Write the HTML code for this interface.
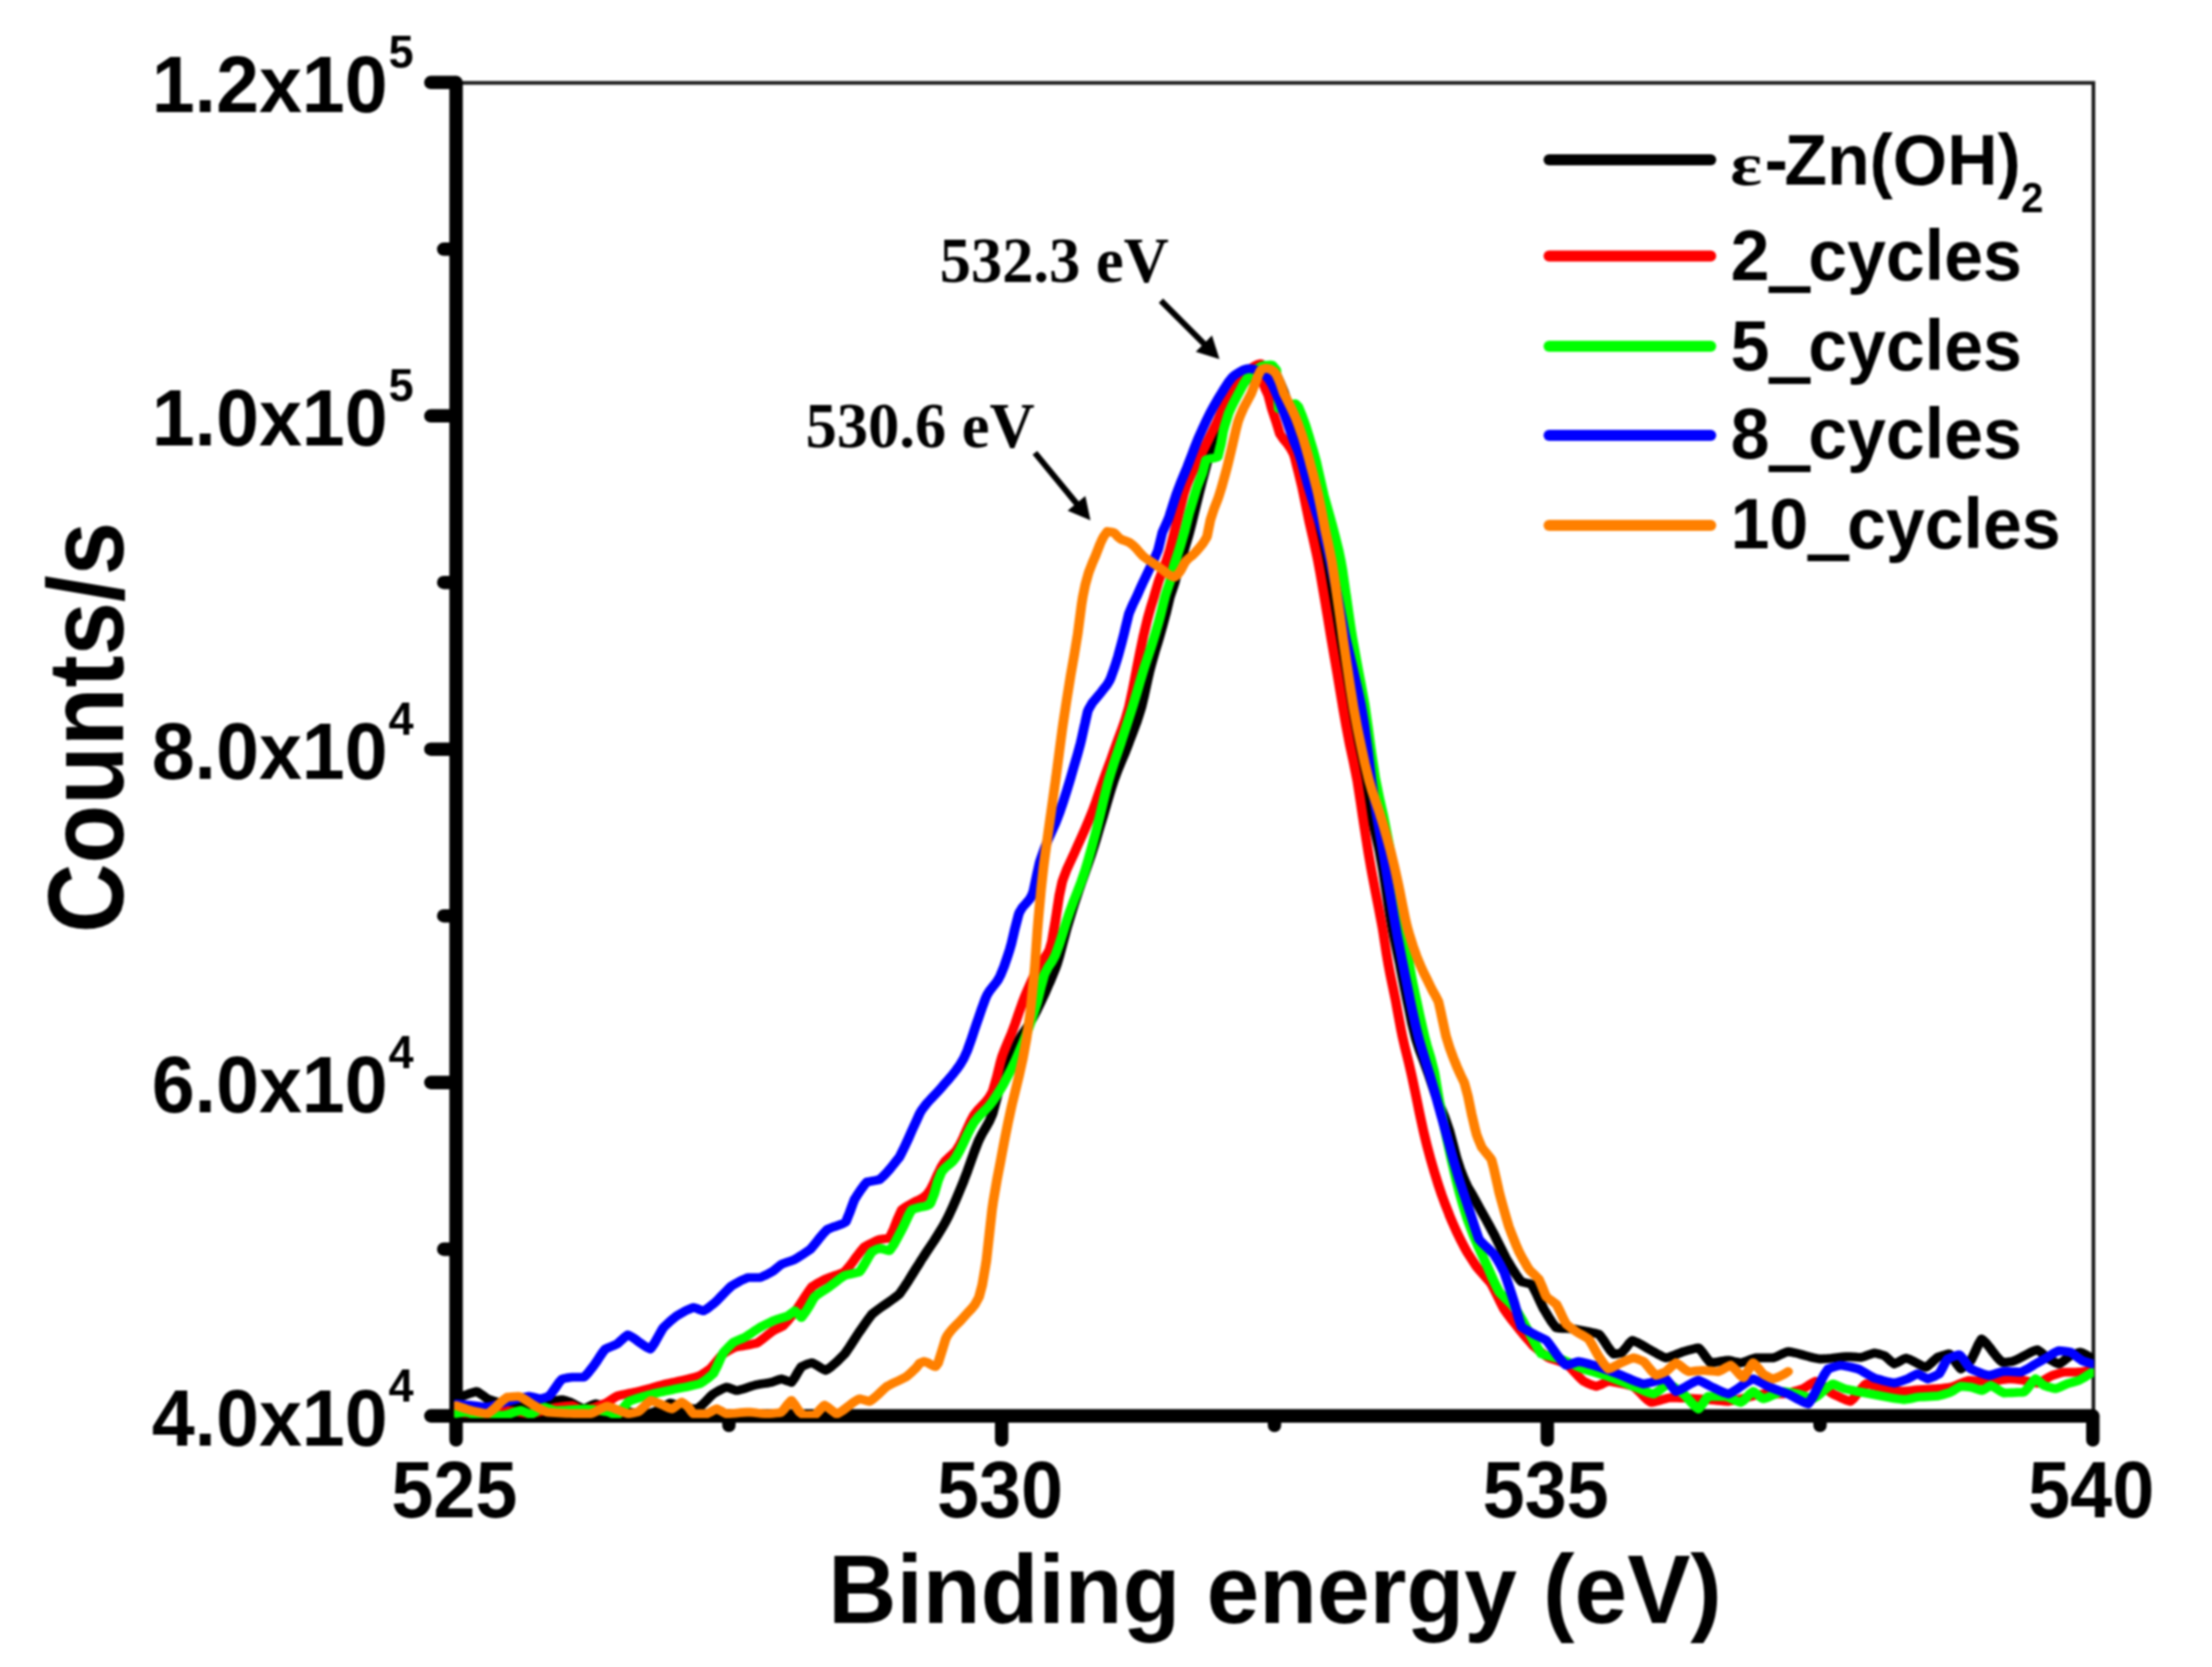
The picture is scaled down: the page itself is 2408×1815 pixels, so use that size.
<!DOCTYPE html>
<html lang="en"><head><meta charset="utf-8"><title>O 1s XPS spectra</title>
<style>
html,body{margin:0;padding:0;background:#fff;}
body{width:2408px;height:1815px;overflow:hidden;}
svg{display:block;filter:blur(1.3px);}
text{font-family:"Liberation Sans",Arial,Helvetica,sans-serif;font-weight:bold;fill:#000;}
.tk{font-size:84px;}
.sup{font-size:49px;}
.ttl{font-size:103px;}
.lg{font-size:76px;}
.an{font-family:"Liberation Serif","Times New Roman",serif;font-weight:bold;font-size:68px;}
.ax{stroke:#000;stroke-width:14.6;stroke-linecap:round;stroke-linejoin:round;fill:none;}
.thin{stroke:#1c1c1c;stroke-width:4;fill:none;stroke-linecap:square;}
.cv{fill:none;stroke-width:9.7;stroke-linejoin:round;stroke-linecap:round;}
.ll{fill:none;stroke-width:12;stroke-linecap:round;}
.us{font-family:"DejaVu Sans Mono","Liberation Mono",monospace;}
.eps{font-family:"Liberation Serif","DejaVu Serif",serif;font-size:70px;}
.sub{font-size:44px;}
</style></head><body>
<svg width="2408" height="1815" viewBox="0 0 2408 1815">
<defs><clipPath id="plot"><rect x="494.3" y="89.8" width="1785.2" height="1454.1"/></clipPath></defs>
<rect x="0" y="0" width="2408" height="1815" fill="#ffffff"/>
<path class="thin" d="M496.5,90.2 H2278.9 V1541.6"/>
<path class="ax" d="M496.5,89.8 V1541.6 H2278.3"/>
<path class="ax" d="M494.5,1541.6 H469 M494.5,1178.6 H469 M494.5,815.7 H469 M494.5,452.8 H469 M494.5,89.8 H469 M494.5,1360.1 H483 M494.5,997.2 H483 M494.5,634.2 H483 M494.5,271.3 H483 M496.5,1543.6 V1567.8 M1090.4,1543.6 V1567.8 M1684.4,1543.6 V1567.8 M2278.3,1543.6 V1567.8 M793.5,1543.6 V1552 M1387.4,1543.6 V1552 M1981.3,1543.6 V1552"/>
<g clip-path="url(#plot)"><g transform="scale(1.09,1)">
<polyline class="cv" stroke="#000000" points="455.5,1523.0 459.2,1521.3 462.9,1519.7 463.6,1519.4 466.5,1518.3 470.2,1516.8 473.9,1515.6 476.1,1515.0 477.5,1515.8 481.2,1518.6 484.9,1521.6 486.8,1523.0 488.6,1523.7 492.2,1525.1 495.9,1526.4 496.8,1526.7 499.6,1527.3 503.3,1528.1 506.9,1528.9 510.6,1529.6 513.8,1530.0 514.3,1530.0 517.9,1529.8 521.6,1529.6 525.3,1529.4 529.0,1529.2 532.1,1529.0 532.6,1528.9 536.3,1528.4 540.0,1527.8 543.7,1527.2 546.5,1526.7 547.3,1526.6 551.0,1525.8 554.7,1525.1 558.3,1524.4 561.5,1524.0 562.0,1524.1 565.7,1525.2 569.4,1526.6 569.7,1526.7 573.0,1528.5 576.7,1530.8 580.4,1532.8 583.0,1533.9 584.1,1533.6 587.7,1531.8 591.4,1529.8 594.7,1528.4 595.1,1528.5 598.7,1529.6 602.4,1531.1 606.1,1532.6 607.3,1533.0 609.8,1533.6 613.4,1534.6 617.1,1535.5 620.8,1536.4 623.9,1537.0 624.5,1537.1 628.1,1537.4 631.8,1537.8 635.5,1538.1 639.1,1538.4 642.8,1538.7 646.5,1538.9 647.7,1539.0 650.2,1538.3 653.8,1537.0 657.5,1535.4 660.6,1534.0 661.2,1533.6 664.9,1530.6 668.5,1528.0 669.3,1527.6 672.2,1528.5 675.9,1530.0 679.5,1531.6 683.2,1532.9 683.5,1533.0 686.9,1533.3 690.6,1533.7 694.2,1533.9 695.9,1534.0 697.9,1532.6 701.6,1529.2 705.3,1525.2 708.9,1521.1 712.5,1517.6 712.6,1517.5 716.3,1515.2 719.9,1513.0 723.6,1511.2 725.7,1510.4 727.3,1510.8 731.0,1512.3 734.6,1513.7 735.7,1514.0 738.3,1513.4 742.0,1512.3 745.7,1511.1 749.3,1509.7 753.0,1508.5 755.6,1507.7 756.7,1507.5 760.3,1506.8 764.0,1506.2 767.7,1505.6 770.6,1505.0 771.4,1504.7 775.0,1503.3 778.7,1501.9 780.5,1501.4 782.4,1502.0 786.1,1503.5 789.7,1504.8 790.4,1505.0 793.4,1500.6 797.1,1493.5 800.4,1488.0 800.7,1487.8 804.4,1486.1 808.1,1484.6 811.0,1483.8 811.8,1484.1 815.4,1486.2 819.1,1488.8 822.8,1491.1 824.8,1492.0 826.5,1490.9 830.1,1488.1 833.8,1484.6 837.5,1480.8 841.2,1476.8 843.5,1474.3 844.8,1472.3 848.5,1466.5 852.2,1460.3 855.8,1454.1 858.3,1450.0 859.5,1448.2 863.2,1442.4 866.9,1436.7 870.5,1431.4 870.8,1431.0 874.2,1428.0 877.9,1425.0 881.6,1422.2 885.2,1419.5 888.9,1416.7 892.6,1413.8 896.2,1410.7 898.2,1409.0 899.9,1406.4 903.6,1400.6 907.3,1394.4 910.9,1388.0 914.6,1381.5 918.3,1375.2 920.6,1371.0 922.0,1368.8 925.6,1362.7 929.3,1356.7 933.0,1350.7 936.6,1344.5 940.3,1337.9 944.0,1330.9 945.5,1327.8 947.7,1323.2 951.3,1314.6 955.0,1305.4 958.7,1295.8 962.4,1286.0 962.9,1284.4 966.0,1275.6 969.7,1264.3 973.4,1253.0 977.0,1242.9 977.8,1241.0 980.7,1234.7 984.4,1227.9 988.1,1220.8 990.8,1214.0 991.7,1211.2 995.4,1196.2 999.1,1179.4 1001.8,1169.0 1002.8,1166.3 1006.4,1156.8 1009.7,1149.2 1010.1,1148.3 1013.8,1140.3 1017.4,1132.8 1019.3,1129.3 1021.1,1126.0 1024.8,1119.9 1028.5,1113.9 1030.9,1109.5 1032.1,1107.1 1035.8,1099.3 1039.5,1091.0 1040.1,1089.6 1043.2,1082.4 1046.8,1073.3 1048.3,1069.7 1050.5,1064.0 1054.2,1054.1 1055.6,1049.8 1057.8,1041.8 1061.5,1026.6 1065.2,1011.5 1065.6,1010.0 1068.9,998.2 1072.5,985.5 1076.2,973.3 1077.4,969.3 1079.9,961.5 1083.6,950.3 1087.2,939.1 1090.2,929.6 1090.9,927.2 1094.6,914.4 1098.2,901.1 1101.4,889.8 1101.9,887.8 1105.6,874.1 1109.3,860.5 1112.4,850.0 1112.9,848.3 1116.6,837.7 1120.3,828.0 1124.0,818.4 1127.2,809.3 1127.6,808.2 1131.3,797.7 1135.0,786.8 1138.6,774.6 1140.0,769.6 1142.3,759.3 1146.0,740.5 1148.3,729.8 1149.7,724.0 1153.3,710.1 1157.0,696.9 1159.1,689.1 1160.7,682.9 1164.1,669.2 1164.4,668.2 1168.0,651.6 1168.6,649.3 1171.7,639.4 1173.2,634.4 1175.4,625.0 1177.8,614.5 1179.0,610.2 1182.4,599.6 1182.7,598.4 1186.4,585.2 1187.8,579.7 1190.1,570.1 1192.4,559.8 1193.7,553.9 1197.4,537.7 1201.1,521.9 1202.8,515.0 1204.8,506.7 1208.4,492.1 1210.8,484.4 1212.1,481.2 1215.8,473.6 1219.5,466.6 1220.2,465.0 1223.1,458.0 1226.8,448.7 1230.5,439.5 1233.9,432.0 1234.1,431.6 1237.8,424.7 1241.5,418.3 1245.2,412.9 1247.7,410.0 1248.8,408.9 1252.5,405.2 1256.2,402.0 1259.9,400.2 1261.5,400.0 1263.5,400.1 1267.2,400.8 1270.6,402.0 1270.9,402.1 1274.5,407.2 1278.2,416.0 1279.8,420.0 1281.9,425.6 1285.6,437.5 1289.0,450.0 1289.2,450.9 1292.9,465.8 1296.6,482.4 1298.2,490.0 1300.3,501.2 1303.7,520.0 1303.9,521.2 1307.6,537.0 1311.3,552.1 1311.9,555.0 1314.9,569.0 1318.6,586.8 1322.3,606.0 1322.9,609.6 1326.0,627.3 1329.4,649.0 1329.6,650.9 1333.3,678.1 1334.9,689.0 1337.0,702.0 1340.7,722.7 1341.7,729.0 1344.3,744.1 1348.0,765.9 1348.6,769.6 1351.7,788.0 1355.0,809.0 1355.3,810.9 1359.0,836.1 1361.2,849.5 1362.7,857.3 1366.4,874.1 1369.7,889.0 1370.0,890.4 1373.7,906.9 1377.4,924.4 1378.3,929.6 1381.1,946.3 1384.4,969.0 1384.7,971.2 1388.4,996.5 1390.4,1009.0 1392.1,1018.6 1395.7,1037.4 1398.2,1049.8 1399.4,1056.6 1403.1,1076.8 1405.5,1089.6 1406.8,1096.1 1410.4,1115.0 1413.7,1129.3 1414.1,1131.0 1417.8,1143.3 1421.5,1154.0 1425.1,1164.6 1426.6,1169.1 1428.8,1176.3 1432.5,1188.3 1433.0,1190.0 1436.1,1198.6 1439.8,1208.2 1442.7,1216.0 1443.5,1218.5 1447.2,1230.1 1447.7,1232.0 1450.8,1244.7 1454.5,1260.1 1455.0,1262.0 1458.2,1272.5 1461.9,1283.1 1462.4,1284.4 1465.5,1291.7 1469.2,1298.5 1472.9,1305.7 1476.5,1312.9 1477.2,1314.3 1480.2,1320.2 1483.9,1327.4 1487.6,1334.7 1491.2,1342.1 1492.2,1344.0 1494.9,1349.9 1498.6,1358.0 1502.3,1366.1 1504.6,1371.0 1505.9,1373.4 1509.6,1380.0 1513.3,1386.5 1516.9,1392.2 1519.5,1395.6 1520.6,1395.9 1524.3,1396.9 1528.0,1397.8 1529.4,1398.3 1531.6,1402.2 1535.3,1410.3 1539.0,1419.0 1541.9,1425.5 1542.7,1426.8 1546.3,1433.4 1550.0,1439.8 1553.7,1445.0 1554.4,1445.8 1557.3,1446.1 1561.0,1446.3 1564.7,1446.5 1568.4,1446.7 1571.8,1447.0 1572.0,1447.0 1575.7,1447.7 1579.4,1448.4 1583.1,1449.2 1586.7,1450.0 1590.4,1450.9 1594.1,1451.8 1596.7,1452.6 1597.8,1453.8 1601.4,1459.1 1605.1,1465.3 1608.8,1471.0 1611.7,1474.3 1612.4,1474.2 1616.1,1473.6 1619.3,1473.0 1619.8,1472.5 1623.5,1467.9 1627.1,1462.7 1630.3,1459.4 1630.8,1459.6 1634.5,1461.3 1638.2,1463.4 1641.8,1465.7 1645.5,1468.1 1648.9,1470.2 1649.2,1470.4 1652.8,1472.5 1656.5,1474.8 1660.2,1476.9 1663.9,1478.4 1663.9,1478.4 1667.5,1477.3 1671.2,1475.9 1674.9,1474.3 1678.6,1472.7 1681.3,1471.6 1682.2,1471.3 1685.9,1470.2 1689.6,1469.1 1693.2,1468.1 1696.2,1467.5 1696.9,1468.1 1700.6,1472.8 1704.3,1478.5 1707.9,1483.2 1708.6,1483.8 1711.6,1483.4 1715.3,1482.8 1719.0,1482.1 1722.6,1481.4 1726.1,1481.0 1726.3,1481.0 1730.0,1481.8 1733.6,1482.8 1737.3,1483.6 1738.5,1483.8 1741.0,1483.1 1744.7,1481.7 1748.3,1480.1 1752.0,1478.8 1753.4,1478.4 1755.7,1478.4 1759.4,1478.4 1763.0,1478.4 1766.7,1478.4 1770.4,1478.4 1770.8,1478.4 1774.0,1477.2 1777.7,1475.3 1781.4,1473.4 1785.1,1471.8 1785.8,1471.6 1788.7,1472.1 1792.4,1472.9 1796.1,1473.9 1799.8,1475.0 1803.4,1476.1 1807.1,1477.2 1810.8,1478.2 1814.4,1479.0 1818.1,1479.7 1818.2,1479.7 1821.8,1479.4 1825.5,1479.1 1829.1,1478.7 1832.8,1478.2 1836.5,1477.8 1840.2,1477.4 1843.8,1477.1 1845.5,1477.0 1847.5,1477.1 1851.2,1477.3 1854.8,1477.6 1858.5,1477.8 1858.7,1477.8 1862.2,1476.8 1865.9,1475.3 1869.5,1473.9 1872.0,1473.2 1873.2,1473.4 1876.9,1474.3 1880.6,1475.5 1882.0,1476.0 1884.2,1477.9 1887.9,1481.7 1891.6,1484.8 1891.9,1485.0 1895.2,1483.4 1898.9,1481.1 1902.6,1479.1 1903.7,1478.7 1906.3,1479.7 1909.9,1481.5 1913.6,1483.7 1917.3,1485.8 1921.0,1487.7 1923.5,1488.6 1924.6,1487.9 1928.3,1484.5 1932.0,1480.7 1935.1,1477.8 1935.6,1477.6 1939.3,1476.2 1943.0,1475.0 1946.7,1474.0 1946.8,1474.0 1950.3,1478.5 1954.0,1484.6 1957.7,1489.8 1958.3,1490.4 1961.4,1488.3 1965.0,1484.8 1968.3,1481.4 1968.7,1480.6 1972.4,1472.2 1976.1,1463.3 1979.1,1457.9 1979.7,1458.4 1983.4,1462.2 1987.1,1467.1 1990.7,1472.4 1994.4,1477.5 1998.1,1481.7 1999.8,1483.2 2001.8,1483.1 2005.4,1482.8 2009.1,1482.4 2009.7,1482.3 2012.8,1481.0 2016.5,1479.1 2020.1,1477.0 2023.8,1474.8 2027.5,1472.7 2031.1,1470.9 2034.7,1469.6 2034.8,1469.7 2038.5,1472.4 2042.2,1475.9 2045.8,1479.3 2046.2,1479.6 2049.5,1481.6 2053.2,1483.7 2056.2,1485.0 2056.9,1484.7 2060.5,1482.1 2064.2,1478.9 2067.9,1476.0 2067.9,1476.0 2071.5,1474.4 2075.2,1473.0 2077.8,1472.3 2078.9,1472.7 2082.6,1474.5 2086.2,1476.8 2089.9,1479.6"/>
<polyline class="cv" stroke="#ff0000" points="455.5,1538.0 459.2,1538.2 462.9,1538.5 466.5,1538.6 470.2,1538.8 473.9,1538.9 477.1,1539.0 477.5,1539.0 481.2,1538.6 484.9,1538.2 488.6,1537.8 492.2,1537.3 495.9,1536.8 499.6,1536.3 503.3,1536.0 506.4,1535.7 506.9,1535.7 510.6,1536.2 514.3,1536.8 517.9,1537.5 521.6,1538.1 525.3,1538.7 529.0,1539.2 529.9,1539.3 532.6,1538.8 536.3,1537.9 540.0,1536.8 543.7,1535.7 547.3,1534.6 551.0,1533.4 554.7,1532.4 556.5,1532.0 558.3,1531.8 562.0,1531.3 565.7,1530.8 569.4,1530.5 571.6,1530.3 573.0,1530.9 576.7,1533.2 580.4,1535.3 581.4,1535.7 584.1,1535.1 587.7,1534.1 591.4,1533.0 594.5,1532.0 595.1,1531.8 598.7,1530.3 602.4,1528.7 606.1,1527.1 606.2,1527.0 609.8,1524.5 613.4,1521.8 616.2,1520.0 617.1,1519.7 620.8,1518.8 624.5,1517.9 628.1,1517.1 631.8,1516.3 635.5,1515.4 639.1,1514.6 639.4,1514.5 642.8,1513.5 646.5,1512.4 650.2,1511.3 653.8,1510.1 657.5,1509.0 661.2,1507.9 664.2,1507.0 664.9,1506.8 668.5,1505.9 672.2,1505.1 675.9,1504.2 679.5,1503.3 680.9,1503.0 683.2,1502.4 686.9,1501.5 690.6,1500.5 694.2,1499.5 697.5,1498.5 697.9,1498.3 701.6,1496.0 705.3,1493.4 708.9,1490.7 709.2,1490.5 712.6,1486.4 716.3,1481.5 719.9,1476.8 722.4,1474.0 723.6,1473.2 727.3,1470.7 731.0,1468.6 733.9,1467.0 734.6,1466.8 738.3,1466.1 742.0,1465.4 744.0,1465.0 745.7,1464.7 749.3,1463.9 753.0,1463.1 755.6,1462.5 756.7,1461.8 760.3,1459.0 764.0,1455.9 767.7,1452.7 771.4,1449.6 772.2,1449.0 775.0,1447.4 778.7,1445.5 782.1,1443.5 782.4,1443.2 786.1,1438.8 789.7,1433.9 793.4,1428.8 796.1,1425.0 797.1,1423.5 800.7,1417.4 804.4,1411.2 808.1,1405.2 811.0,1401.0 811.8,1400.4 815.4,1397.9 819.1,1395.6 822.8,1393.5 823.6,1393.0 826.5,1391.8 830.1,1390.3 833.8,1388.9 837.5,1387.5 841.2,1385.9 843.5,1384.8 844.8,1383.3 848.5,1378.5 852.2,1373.2 855.8,1367.7 859.5,1362.5 863.2,1357.8 863.3,1357.7 866.9,1355.5 870.5,1353.4 874.2,1351.4 877.9,1349.7 878.3,1349.5 881.6,1349.0 885.2,1348.5 888.1,1348.0 888.9,1346.6 892.6,1338.1 896.2,1327.9 899.9,1318.7 900.7,1317.0 903.6,1314.8 907.3,1312.3 910.9,1310.1 914.6,1307.9 918.3,1306.2 922.0,1303.9 925.6,1300.8 925.7,1300.7 929.3,1295.3 933.0,1287.3 936.6,1278.4 940.3,1270.2 943.1,1265.4 944.0,1264.2 947.7,1260.3 951.3,1256.8 955.0,1252.6 955.4,1252.0 958.7,1246.3 962.4,1237.9 966.0,1228.8 969.7,1220.1 972.8,1214.0 973.4,1213.1 977.0,1208.1 980.7,1203.9 984.4,1199.8 988.1,1194.6 990.8,1189.5 991.7,1187.2 995.4,1173.2 999.1,1156.8 1000.9,1150.0 1002.8,1144.5 1006.4,1134.9 1010.1,1125.5 1011.0,1123.0 1013.8,1114.7 1017.4,1103.1 1021.1,1091.7 1023.5,1085.0 1024.8,1081.6 1028.5,1072.3 1032.1,1063.5 1035.8,1055.5 1038.5,1050.0 1039.5,1048.3 1043.2,1043.0 1046.8,1037.0 1048.3,1033.6 1050.5,1025.2 1054.2,1001.6 1057.8,975.8 1060.8,960.4 1061.5,958.0 1065.2,947.2 1068.9,938.4 1072.5,929.9 1073.4,927.8 1076.2,920.7 1079.9,911.8 1083.6,902.8 1087.2,893.6 1090.6,884.4 1090.9,883.7 1094.6,872.8 1098.2,861.2 1101.9,849.7 1102.1,849.1 1105.6,838.6 1109.3,827.7 1112.9,816.6 1115.3,809.3 1116.6,805.4 1120.3,794.6 1124.0,783.1 1127.6,769.6 1127.6,769.5 1131.3,750.7 1135.0,729.8 1135.0,729.7 1138.6,709.8 1142.3,690.7 1142.7,689.1 1146.0,674.0 1147.2,669.2 1149.7,659.8 1152.7,649.3 1153.3,646.8 1157.0,633.3 1158.2,629.5 1160.7,622.4 1163.6,614.5 1164.4,612.2 1168.0,600.1 1168.2,599.6 1171.7,584.4 1172.8,579.7 1175.4,568.3 1177.3,559.8 1179.0,552.1 1181.8,539.9 1182.7,536.4 1184.6,530.0 1186.4,524.9 1190.1,515.7 1193.7,507.5 1197.4,499.7 1199.8,494.4 1201.1,491.5 1204.8,483.3 1208.4,475.3 1212.1,467.1 1215.4,459.6 1215.8,458.7 1219.5,449.5 1223.1,440.4 1225.4,435.7 1226.8,433.4 1230.0,428.7 1230.5,428.0 1234.1,421.9 1237.8,415.8 1240.4,412.0 1241.5,410.5 1245.2,405.5 1248.8,401.6 1249.5,401.0 1252.5,398.8 1256.2,396.7 1259.2,396.0 1259.9,398.8 1261.9,417.8 1263.5,422.8 1266.4,429.7 1267.2,432.5 1270.1,444.6 1270.9,447.3 1274.5,459.1 1274.7,459.6 1278.2,472.2 1278.3,472.5 1281.9,478.3 1285.6,483.0 1286.5,484.4 1289.2,488.7 1292.0,494.4 1292.9,497.2 1295.7,509.3 1296.6,513.1 1300.2,529.2 1300.3,529.5 1303.9,548.5 1307.6,568.0 1307.8,569.0 1311.3,585.6 1314.9,603.2 1316.1,609.6 1318.6,624.2 1322.3,647.8 1322.5,649.0 1326.0,671.7 1328.6,689.1 1329.6,695.6 1333.3,719.0 1334.9,729.0 1337.0,742.9 1340.7,766.8 1341.1,769.6 1344.3,789.4 1347.7,809.0 1348.0,810.6 1351.7,829.1 1355.3,848.5 1355.5,849.5 1359.0,874.3 1361.0,889.0 1362.7,901.1 1366.4,926.8 1366.8,929.6 1370.0,949.5 1373.4,969.0 1373.7,970.8 1377.4,991.2 1380.5,1009.0 1381.1,1012.8 1384.7,1038.2 1386.5,1049.8 1388.4,1060.6 1392.1,1080.0 1393.9,1089.6 1395.7,1100.5 1399.4,1121.8 1400.8,1129.3 1403.1,1140.2 1406.8,1156.4 1409.5,1169.1 1410.4,1173.5 1414.1,1192.7 1417.8,1212.4 1421.5,1230.9 1422.5,1235.6 1425.1,1247.1 1428.8,1262.1 1432.5,1276.0 1434.9,1284.4 1436.1,1288.8 1439.8,1300.7 1443.5,1311.7 1447.2,1321.9 1447.3,1322.4 1450.8,1331.5 1454.5,1340.5 1458.2,1348.9 1461.9,1356.6 1462.4,1357.7 1465.5,1363.8 1469.2,1370.0 1472.9,1376.3 1474.8,1379.4 1476.5,1381.7 1480.2,1386.3 1483.9,1390.8 1487.6,1395.5 1489.6,1398.3 1491.2,1401.6 1494.9,1409.6 1498.6,1418.0 1502.1,1425.5 1502.3,1425.7 1505.9,1431.3 1509.6,1436.6 1513.3,1441.7 1516.9,1446.8 1517.1,1447.0 1520.6,1451.7 1524.3,1456.4 1528.0,1461.1 1531.6,1465.6 1532.0,1466.0 1535.3,1469.0 1539.0,1472.2 1542.7,1475.3 1546.3,1478.1 1546.8,1478.4 1550.0,1479.7 1553.7,1481.0 1557.3,1482.3 1561.0,1483.7 1564.2,1485.0 1564.7,1485.4 1568.4,1489.2 1572.0,1493.4 1575.7,1497.7 1579.4,1501.8 1581.7,1504.0 1583.1,1504.7 1586.7,1506.6 1590.4,1508.2 1594.1,1509.5 1594.2,1509.5 1597.8,1508.1 1601.4,1506.2 1605.1,1504.4 1606.4,1504.0 1608.8,1504.3 1612.4,1505.0 1616.1,1505.7 1619.8,1506.5 1623.5,1507.4 1627.1,1508.4 1630.8,1509.4 1631.2,1509.5 1634.5,1512.4 1638.2,1516.4 1641.8,1520.6 1645.5,1524.4 1648.9,1527.0 1649.2,1527.0 1652.8,1526.2 1656.5,1525.1 1660.2,1523.9 1663.9,1522.8 1667.5,1521.9 1668.8,1521.7 1671.2,1521.8 1674.9,1521.9 1678.6,1522.1 1682.2,1522.2 1685.9,1522.4 1689.6,1522.6 1693.2,1522.8 1696.9,1523.0 1697.2,1523.0 1700.6,1523.3 1704.3,1523.7 1707.9,1524.1 1711.6,1524.5 1715.3,1524.9 1719.0,1525.2 1722.6,1525.6 1726.1,1525.8 1726.3,1525.8 1730.0,1525.1 1733.6,1524.3 1737.3,1523.4 1741.0,1522.5 1743.1,1522.0 1744.7,1521.6 1748.3,1520.6 1752.0,1519.6 1755.7,1518.7 1759.4,1518.0 1760.9,1517.7 1763.0,1517.7 1766.7,1517.7 1770.4,1517.7 1774.0,1517.7 1777.7,1517.7 1780.7,1517.7 1781.4,1517.6 1785.1,1516.8 1788.7,1515.8 1792.4,1514.7 1796.1,1513.6 1799.8,1512.3 1800.7,1512.0 1803.4,1510.3 1807.1,1507.6 1810.8,1505.2 1813.1,1504.0 1814.4,1504.7 1818.1,1507.2 1821.8,1510.3 1825.5,1513.6 1829.1,1516.7 1830.6,1517.7 1832.8,1518.9 1836.5,1520.8 1840.2,1522.7 1843.8,1524.4 1847.5,1525.7 1848.0,1525.8 1851.2,1522.7 1854.8,1517.7 1858.5,1512.5 1862.2,1508.0 1863.8,1506.7 1865.9,1507.1 1869.5,1508.0 1873.2,1509.0 1876.9,1510.1 1880.6,1511.2 1883.7,1512.0 1884.2,1512.1 1887.9,1512.8 1891.6,1513.5 1895.2,1514.1 1898.9,1514.7 1900.3,1514.8 1902.6,1514.6 1906.3,1514.2 1909.9,1513.8 1913.6,1513.3 1916.9,1513.0 1917.3,1513.0 1921.0,1512.8 1924.6,1512.6 1928.3,1512.4 1932.0,1512.2 1935.1,1512.0 1935.6,1511.9 1939.3,1511.5 1943.0,1511.0 1946.7,1510.5 1949.5,1510.0 1950.3,1509.7 1954.0,1508.2 1957.7,1506.5 1961.4,1504.8 1965.0,1503.4 1966.6,1503.0 1968.7,1503.1 1972.4,1503.3 1976.1,1503.5 1979.7,1503.7 1983.4,1503.9 1986.2,1504.0 1987.1,1503.9 1990.7,1503.5 1994.4,1503.1 1998.1,1502.5 2001.8,1502.0 2005.4,1501.5 2008.1,1501.3 2009.1,1501.4 2012.8,1501.8 2016.5,1502.3 2020.1,1502.8 2021.4,1503.0 2023.8,1503.5 2027.5,1504.4 2031.1,1505.3 2034.8,1506.0 2034.9,1506.0 2038.5,1504.3 2042.2,1502.1 2045.8,1499.7 2049.5,1497.6 2049.5,1497.6 2053.2,1496.3 2056.9,1495.1 2060.5,1494.1 2061.2,1494.0 2064.2,1494.0 2067.9,1494.0 2071.5,1494.0 2074.5,1494.0 2075.2,1493.9 2078.9,1493.6 2082.6,1493.1 2086.2,1492.6 2089.9,1492.0"/>
<polyline class="cv" stroke="#00ff00" points="455.5,1539.0 459.2,1538.3 462.9,1537.7 465.1,1537.5 466.5,1537.8 470.2,1538.9 473.9,1540.2 477.1,1541.0 477.5,1541.0 481.2,1541.0 484.9,1541.0 488.6,1541.0 492.2,1541.0 495.9,1541.0 499.6,1541.0 503.3,1541.0 503.4,1541.0 506.9,1540.1 510.6,1538.8 514.3,1537.4 517.9,1536.2 520.0,1535.7 521.6,1536.2 525.3,1537.9 529.0,1539.6 530.3,1540.0 532.6,1538.8 536.3,1536.3 540.0,1533.7 543.1,1532.0 543.7,1532.1 547.3,1533.3 551.0,1534.8 554.7,1535.9 555.0,1536.0 558.3,1535.8 562.0,1535.6 565.7,1535.4 569.4,1535.1 573.0,1534.8 576.7,1534.5 580.4,1534.3 584.1,1534.1 586.2,1534.0 587.7,1534.2 591.4,1534.6 595.1,1535.2 598.7,1535.8 602.4,1536.4 606.1,1537.1 607.9,1537.5 609.8,1538.3 613.4,1540.0 616.2,1541.0 617.1,1540.2 620.8,1535.7 624.5,1530.2 627.8,1526.0 628.1,1525.8 631.8,1524.3 635.5,1522.9 639.1,1521.6 639.4,1521.5 642.8,1520.4 646.5,1519.3 650.2,1518.3 652.8,1517.5 653.8,1517.2 657.5,1516.3 661.2,1515.4 664.9,1514.6 668.5,1513.7 672.2,1512.9 672.5,1512.8 675.9,1512.1 679.5,1511.3 683.2,1510.6 685.9,1510.0 686.9,1509.7 690.6,1508.8 694.2,1507.9 697.9,1506.9 699.1,1506.5 701.6,1504.8 705.3,1502.0 708.9,1498.8 712.5,1495.5 712.6,1495.3 716.3,1487.2 719.9,1478.3 722.4,1473.0 723.6,1471.4 727.3,1467.0 731.0,1463.0 732.4,1461.6 734.6,1460.4 738.3,1458.7 742.0,1457.0 744.0,1456.0 745.7,1454.9 749.3,1452.3 753.0,1449.5 756.7,1446.9 758.9,1445.3 760.3,1444.5 764.0,1442.4 767.7,1440.4 771.4,1438.4 772.2,1438.0 775.0,1436.9 778.7,1435.7 782.4,1434.4 786.1,1433.1 787.2,1432.6 789.7,1430.4 793.4,1427.4 793.8,1427.2 797.1,1430.8 800.4,1434.4 800.7,1434.0 804.4,1428.6 807.3,1423.6 808.1,1422.2 811.8,1415.1 813.6,1412.0 815.4,1410.4 819.1,1407.6 822.8,1405.0 826.5,1402.5 828.4,1401.0 830.1,1399.6 833.8,1396.5 837.5,1393.3 841.2,1390.4 843.5,1388.8 844.8,1388.4 848.5,1387.4 852.2,1386.6 855.8,1385.6 858.3,1384.8 859.5,1383.2 863.2,1376.8 866.9,1369.7 870.5,1363.4 870.8,1363.0 874.2,1360.9 877.9,1359.2 878.3,1359.0 881.6,1359.8 885.2,1361.0 888.3,1361.7 888.9,1360.9 892.6,1355.2 896.2,1347.9 899.9,1340.3 900.7,1338.7 903.6,1332.2 907.3,1323.5 910.6,1317.0 910.9,1316.9 914.6,1315.6 918.3,1314.5 922.0,1313.8 925.6,1312.8 928.1,1311.6 929.3,1310.2 933.0,1299.9 936.6,1286.2 940.3,1276.1 940.4,1276.0 944.0,1271.5 947.7,1268.2 951.3,1264.7 952.9,1262.7 955.0,1259.5 958.7,1252.3 962.4,1244.0 966.0,1235.5 969.7,1227.6 972.8,1222.0 973.4,1221.2 977.0,1216.3 980.7,1212.1 984.4,1208.1 988.1,1203.8 990.8,1200.0 991.7,1198.6 995.4,1192.7 999.1,1186.2 1002.8,1179.2 1006.4,1171.7 1010.1,1163.8 1013.8,1155.4 1016.1,1150.0 1017.4,1146.6 1021.1,1137.1 1024.8,1126.9 1028.5,1115.8 1032.1,1103.9 1035.3,1093.0 1035.8,1091.2 1039.5,1074.7 1043.1,1060.7 1043.2,1060.6 1046.8,1053.0 1050.5,1047.1 1053.2,1041.7 1054.2,1039.3 1057.8,1028.5 1061.5,1015.9 1065.2,1003.0 1068.3,993.0 1068.9,991.2 1072.5,980.6 1076.2,970.5 1079.9,960.0 1083.2,949.5 1083.6,948.3 1087.2,935.0 1090.9,920.5 1094.6,905.3 1095.7,900.7 1098.2,889.5 1101.9,872.5 1105.6,856.1 1107.3,849.1 1109.3,842.0 1112.9,829.7 1116.6,818.0 1119.3,809.3 1120.3,805.9 1124.0,793.7 1127.6,781.5 1131.1,769.6 1131.3,768.9 1135.0,755.6 1138.6,742.0 1142.0,729.8 1142.3,728.7 1146.0,716.4 1149.7,704.3 1153.3,691.6 1154.0,689.1 1157.0,677.7 1159.1,669.2 1160.7,662.0 1163.6,649.3 1164.4,646.5 1168.0,634.9 1168.2,634.4 1171.7,618.8 1172.8,614.5 1175.4,605.9 1177.3,599.6 1179.0,593.6 1182.7,579.8 1182.8,579.7 1186.4,563.7 1187.3,559.8 1190.1,549.7 1192.8,539.9 1193.7,536.6 1195.6,530.0 1197.4,524.8 1200.9,515.0 1201.1,514.4 1204.4,500.8 1204.8,500.6 1208.4,499.3 1212.1,498.8 1215.8,497.7 1216.2,497.4 1219.5,482.9 1221.7,469.5 1223.1,463.8 1226.8,450.9 1227.2,449.6 1230.5,441.7 1234.1,434.1 1236.3,429.7 1237.8,426.6 1241.5,418.8 1245.2,412.3 1245.5,411.8 1248.8,407.7 1252.5,404.0 1255.0,402.0 1256.2,401.2 1259.9,398.9 1262.4,398.0 1263.5,397.8 1267.2,397.5 1269.2,397.4 1270.9,397.8 1274.5,402.6 1274.7,402.9 1276.1,425.0 1277.1,445.0 1278.2,444.8 1281.9,443.2 1284.4,442.0 1285.6,441.6 1289.2,440.5 1292.9,439.7 1293.9,439.7 1296.6,442.7 1300.3,452.5 1302.0,457.6 1303.9,463.3 1307.6,476.4 1308.4,479.5 1311.3,489.9 1314.9,504.3 1314.9,504.6 1318.6,522.3 1322.1,539.1 1322.3,539.9 1326.0,554.2 1329.6,568.3 1329.8,569.0 1333.3,583.3 1337.0,599.6 1338.9,609.6 1340.7,620.6 1344.3,647.8 1344.5,649.0 1348.0,675.9 1349.8,689.1 1351.7,701.0 1355.3,722.6 1356.4,729.0 1359.0,743.9 1362.7,765.5 1363.3,769.6 1366.4,793.2 1368.3,809.0 1370.0,822.1 1373.7,848.6 1373.9,849.5 1377.4,868.2 1381.1,885.9 1381.7,889.0 1384.7,905.5 1388.4,926.2 1389.0,929.6 1392.1,948.4 1395.4,969.0 1395.7,971.0 1399.4,991.4 1402.3,1009.0 1403.1,1014.9 1406.8,1045.8 1407.3,1049.8 1410.4,1068.0 1414.1,1086.7 1414.7,1089.6 1417.8,1105.4 1421.5,1123.1 1422.8,1129.3 1425.1,1138.5 1428.8,1151.8 1432.5,1167.3 1432.8,1169.1 1436.1,1190.5 1437.6,1200.0 1439.8,1212.6 1443.5,1232.2 1447.2,1250.6 1449.5,1262.0 1450.8,1268.1 1454.5,1285.1 1458.2,1300.8 1460.6,1310.0 1461.9,1314.7 1465.5,1327.1 1469.2,1337.8 1471.6,1345.0 1472.9,1348.3 1476.5,1357.4 1480.2,1366.2 1482.2,1371.0 1483.9,1375.1 1487.6,1384.1 1491.2,1393.1 1494.9,1401.5 1497.2,1406.5 1498.6,1408.2 1502.3,1412.4 1505.9,1416.3 1509.6,1420.2 1513.3,1424.4 1513.8,1425.0 1516.9,1430.7 1520.6,1437.8 1524.3,1445.1 1528.0,1452.3 1529.4,1455.0 1531.6,1459.5 1535.3,1467.0 1539.0,1473.4 1539.4,1474.0 1542.7,1475.2 1546.3,1476.3 1550.0,1477.3 1553.7,1478.3 1557.3,1479.3 1559.6,1480.0 1561.0,1480.6 1564.7,1482.3 1568.4,1484.1 1572.0,1486.0 1575.7,1487.8 1579.4,1489.6 1581.7,1490.6 1583.1,1491.1 1586.7,1492.3 1590.4,1493.5 1594.1,1494.7 1597.8,1495.9 1601.4,1497.0 1605.1,1498.2 1606.4,1498.7 1608.8,1499.7 1612.4,1501.2 1616.1,1502.8 1619.8,1504.4 1623.5,1506.0 1627.1,1507.6 1630.8,1509.2 1631.6,1509.5 1634.5,1510.8 1638.2,1512.5 1641.8,1514.2 1645.5,1515.8 1649.2,1517.1 1651.4,1517.7 1652.8,1516.9 1656.5,1514.3 1660.2,1511.1 1663.9,1508.2 1666.3,1506.8 1667.5,1507.4 1671.2,1509.6 1674.9,1512.5 1678.6,1515.5 1681.3,1517.7 1682.2,1518.7 1685.9,1523.0 1689.6,1527.5 1693.2,1531.5 1696.2,1534.0 1696.9,1533.4 1700.6,1528.2 1704.3,1522.5 1706.1,1520.4 1707.9,1520.4 1711.6,1520.4 1715.3,1520.4 1719.0,1520.4 1722.6,1520.4 1723.6,1520.4 1726.3,1521.4 1730.0,1523.1 1733.6,1525.0 1737.3,1526.6 1738.5,1527.0 1741.0,1525.1 1744.7,1521.1 1748.3,1517.0 1750.9,1515.0 1752.0,1515.6 1755.7,1518.8 1759.4,1522.0 1760.9,1523.0 1763.0,1522.4 1766.7,1520.9 1770.4,1519.2 1774.0,1517.5 1777.7,1515.9 1780.7,1515.0 1781.4,1515.1 1785.1,1515.6 1788.7,1516.3 1792.4,1517.0 1795.8,1517.7 1796.1,1517.8 1799.8,1519.1 1803.4,1520.6 1807.1,1522.0 1810.6,1523.0 1810.8,1522.9 1814.4,1520.5 1818.1,1517.3 1821.8,1513.7 1825.5,1510.3 1829.1,1507.6 1830.6,1506.8 1832.8,1507.6 1836.5,1509.3 1840.2,1511.1 1842.2,1512.0 1843.8,1512.4 1847.5,1513.3 1851.2,1514.1 1854.8,1514.9 1858.5,1515.7 1862.2,1516.5 1865.9,1517.3 1867.0,1517.5 1869.5,1518.0 1873.2,1518.7 1876.9,1519.5 1880.6,1520.3 1884.2,1521.0 1887.9,1521.7 1891.6,1522.4 1895.2,1523.0 1898.9,1523.5 1901.8,1523.9 1902.6,1523.8 1906.3,1523.2 1909.9,1522.4 1913.6,1521.6 1916.9,1521.0 1917.3,1521.0 1921.0,1520.8 1924.6,1520.6 1928.3,1520.4 1932.0,1520.2 1935.1,1520.0 1935.6,1519.9 1939.3,1518.9 1943.0,1517.6 1946.7,1516.3 1948.3,1515.7 1950.3,1514.5 1954.0,1511.9 1957.7,1509.7 1958.3,1509.4 1961.4,1509.6 1965.0,1510.0 1968.3,1510.3 1968.7,1510.4 1972.4,1511.6 1976.1,1513.0 1979.7,1514.0 1979.8,1514.0 1983.4,1511.7 1987.1,1509.0 1988.1,1508.5 1990.7,1509.8 1994.4,1512.3 1998.1,1514.9 2001.5,1516.6 2001.8,1516.6 2005.4,1516.5 2009.1,1516.3 2012.8,1516.2 2016.5,1516.0 2020.1,1515.8 2021.4,1515.7 2023.8,1513.2 2027.5,1508.0 2031.1,1503.1 2033.0,1501.3 2034.8,1502.5 2038.5,1506.0 2041.3,1508.5 2042.2,1508.8 2045.8,1510.1 2049.5,1511.2 2052.9,1512.0 2053.2,1511.9 2056.9,1510.5 2060.5,1508.6 2064.2,1506.8 2064.5,1506.7 2067.9,1505.6 2071.5,1504.5 2075.2,1503.3 2076.1,1503.0 2078.9,1501.4 2082.6,1499.1 2086.2,1496.6 2089.9,1494.0"/>
<polyline class="cv" stroke="#0000ff" points="455.5,1528.5 459.2,1528.9 462.9,1529.3 466.5,1529.7 470.2,1530.1 471.9,1530.3 473.9,1530.5 477.5,1531.0 481.2,1531.5 484.9,1531.8 486.8,1532.0 488.6,1531.6 492.2,1530.6 495.9,1529.3 499.6,1528.1 500.0,1528.0 503.3,1527.0 506.9,1526.0 510.6,1524.9 513.8,1524.0 514.3,1523.9 517.9,1522.8 521.6,1521.8 525.3,1520.9 528.3,1520.3 529.0,1520.4 532.6,1521.3 536.3,1522.3 539.9,1523.0 540.0,1523.0 543.7,1522.0 547.3,1520.6 548.2,1520.3 551.0,1516.7 554.7,1511.0 558.3,1505.2 561.5,1501.4 562.0,1501.3 565.7,1500.4 569.4,1499.8 571.5,1499.5 573.0,1499.5 576.7,1499.5 580.4,1499.5 583.0,1499.5 584.1,1498.6 587.7,1494.3 591.4,1489.1 593.0,1486.9 595.1,1483.7 598.7,1477.6 602.4,1471.7 604.6,1468.8 606.1,1468.0 609.8,1466.3 613.4,1464.7 616.2,1463.4 617.1,1462.7 620.8,1458.9 624.5,1455.3 627.0,1453.4 628.1,1453.9 631.8,1456.1 635.5,1458.9 639.1,1461.9 642.8,1464.8 646.5,1467.3 649.4,1468.8 650.2,1467.9 653.8,1462.1 657.5,1454.9 661.2,1447.8 662.7,1445.3 664.9,1443.0 668.5,1439.3 672.2,1435.9 675.9,1432.7 676.0,1432.6 679.5,1430.4 683.2,1428.1 686.9,1426.1 690.6,1424.3 692.6,1423.6 694.2,1424.1 697.9,1425.6 701.6,1427.0 702.5,1427.2 705.3,1425.6 708.9,1422.7 712.6,1419.5 714.1,1418.2 716.3,1415.9 719.9,1411.8 723.6,1407.6 727.3,1403.5 730.7,1400.0 731.0,1399.9 734.6,1397.6 738.3,1395.3 742.0,1393.3 745.7,1391.6 747.2,1391.0 749.3,1391.0 753.0,1391.0 756.7,1391.0 758.9,1391.0 760.3,1390.5 764.0,1388.7 767.7,1386.6 771.4,1384.3 772.2,1383.8 775.0,1381.3 778.7,1378.0 780.5,1376.6 782.4,1375.7 786.1,1374.3 789.7,1372.9 793.4,1371.4 793.8,1371.2 797.1,1369.1 800.7,1366.6 804.4,1363.9 808.1,1361.1 809.2,1360.3 811.8,1357.2 815.4,1352.3 819.1,1347.2 822.8,1342.4 826.1,1338.7 826.5,1338.5 830.1,1336.8 833.8,1335.4 837.5,1333.9 841.2,1332.4 844.7,1330.5 844.8,1330.2 848.5,1320.4 852.2,1309.3 853.4,1306.0 855.8,1301.8 859.5,1295.7 863.2,1290.2 865.9,1287.0 866.9,1286.7 870.5,1286.0 874.2,1285.3 877.9,1284.5 878.3,1284.4 881.6,1281.3 885.2,1277.2 888.9,1272.6 892.6,1267.7 896.2,1262.7 898.2,1260.0 899.9,1256.4 903.6,1248.2 907.3,1239.5 910.9,1230.5 914.6,1221.8 918.3,1212.8 920.6,1208.5 922.0,1206.5 925.6,1201.4 929.3,1197.0 933.0,1192.8 936.6,1188.6 940.3,1184.1 940.4,1184.0 944.0,1179.3 947.7,1174.8 951.3,1170.1 955.0,1165.0 958.7,1159.3 962.4,1152.7 962.9,1151.5 966.0,1144.0 969.7,1132.8 973.4,1120.7 976.1,1112.0 977.0,1109.3 980.7,1097.5 984.4,1086.6 986.2,1082.4 988.1,1079.2 991.7,1074.2 995.4,1069.2 997.2,1066.0 999.1,1062.0 1002.8,1052.2 1006.4,1040.7 1008.5,1033.6 1010.1,1027.5 1013.8,1010.3 1017.4,995.4 1018.3,993.0 1021.1,988.0 1024.8,983.5 1028.5,978.8 1030.9,974.0 1032.1,970.1 1035.8,951.2 1038.4,938.7 1039.5,935.1 1043.2,923.8 1046.8,914.1 1050.5,905.2 1054.2,896.1 1057.8,885.9 1058.3,884.4 1061.5,874.2 1065.2,861.7 1068.9,848.4 1072.5,834.8 1074.0,829.2 1076.2,821.0 1079.1,809.3 1079.9,805.7 1083.2,789.5 1083.6,787.8 1086.3,774.5 1087.2,772.3 1090.9,765.3 1094.6,760.5 1098.2,755.8 1099.1,754.6 1101.9,750.7 1105.6,745.6 1107.8,741.7 1109.3,738.3 1112.9,727.3 1115.1,719.8 1116.6,714.5 1120.3,699.7 1122.6,690.0 1124.0,683.5 1127.2,669.2 1127.6,667.7 1131.3,658.2 1135.0,650.1 1135.3,649.3 1138.6,641.2 1142.3,632.4 1143.6,629.5 1146.0,624.0 1149.7,615.8 1150.5,614.0 1153.3,607.5 1156.3,599.6 1157.0,597.1 1160.7,580.5 1160.9,579.7 1164.4,571.1 1166.6,565.7 1168.0,561.4 1171.7,548.7 1175.2,536.8 1175.4,536.4 1179.0,526.0 1182.7,516.3 1185.9,507.9 1186.4,506.4 1190.1,495.9 1193.7,485.4 1196.1,478.9 1197.4,475.7 1201.1,466.6 1204.8,458.0 1208.4,450.0 1208.4,450.0 1212.1,442.5 1215.8,435.4 1219.0,429.7 1219.5,428.9 1223.1,422.4 1226.8,416.1 1230.5,411.0 1232.8,408.8 1234.1,407.7 1237.8,405.1 1241.5,402.9 1245.2,401.6 1247.3,401.4 1248.8,401.5 1252.5,402.1 1256.2,403.3 1256.9,403.5 1259.9,405.2 1263.5,408.5 1265.6,410.8 1267.2,412.9 1270.9,419.5 1271.0,419.8 1274.5,428.0 1277.4,435.7 1278.2,437.8 1281.9,448.4 1285.6,459.5 1285.6,459.6 1289.2,471.0 1292.0,479.5 1292.9,482.0 1296.6,491.6 1297.5,494.4 1300.3,504.0 1303.9,518.7 1306.6,529.2 1307.6,532.9 1311.3,546.2 1313.8,555.0 1314.9,559.0 1318.6,571.2 1321.1,580.0 1322.3,584.7 1326.0,600.4 1328.0,609.6 1329.6,617.5 1333.3,636.0 1335.8,649.0 1337.0,655.6 1340.7,676.7 1342.9,689.1 1344.3,696.1 1348.0,713.3 1351.4,729.0 1351.7,730.4 1355.3,747.4 1359.0,766.1 1359.6,769.6 1362.7,790.1 1365.1,809.0 1366.4,819.4 1369.7,849.5 1370.0,852.0 1373.7,878.6 1375.2,889.0 1377.4,903.1 1381.1,926.4 1381.6,929.6 1384.7,950.2 1387.6,969.0 1388.4,974.1 1392.1,998.0 1393.9,1009.0 1395.7,1020.1 1399.4,1040.5 1401.1,1049.8 1403.1,1060.8 1406.8,1080.8 1408.4,1089.6 1410.4,1099.9 1414.1,1118.1 1416.6,1129.3 1417.8,1134.1 1421.5,1147.5 1425.1,1160.2 1427.6,1169.1 1428.8,1173.6 1432.5,1187.6 1436.1,1201.9 1439.8,1216.3 1439.9,1216.6 1443.5,1230.7 1447.2,1245.4 1450.8,1260.0 1454.5,1274.1 1457.3,1284.4 1458.2,1287.4 1461.9,1299.6 1465.5,1311.4 1467.2,1317.0 1469.2,1323.6 1472.9,1336.2 1476.5,1347.6 1477.2,1349.5 1480.2,1353.1 1483.9,1357.0 1487.6,1360.7 1491.2,1364.7 1492.2,1365.8 1494.9,1370.6 1498.6,1377.6 1502.1,1384.8 1502.3,1385.2 1505.9,1396.7 1509.6,1408.9 1512.1,1417.3 1513.3,1421.7 1516.9,1436.1 1519.5,1444.5 1520.6,1445.4 1524.3,1448.0 1528.0,1450.2 1531.6,1452.4 1532.0,1452.6 1535.3,1454.4 1539.0,1456.3 1542.7,1458.3 1544.4,1459.4 1546.3,1461.9 1550.0,1467.5 1553.7,1473.2 1554.4,1474.3 1557.3,1478.3 1561.0,1483.3 1564.2,1486.5 1564.7,1486.4 1568.4,1485.3 1572.0,1483.9 1575.7,1482.6 1576.8,1482.4 1579.4,1482.9 1583.1,1483.9 1586.7,1485.0 1590.4,1486.1 1591.7,1486.5 1594.1,1487.4 1597.8,1488.8 1601.4,1490.2 1605.1,1491.6 1608.8,1493.1 1612.4,1494.6 1616.1,1496.1 1619.1,1497.3 1619.8,1497.6 1623.5,1499.3 1627.1,1501.0 1630.8,1502.8 1634.5,1504.4 1638.2,1505.8 1641.5,1506.8 1641.8,1506.7 1645.5,1506.0 1649.2,1505.1 1652.8,1504.0 1656.5,1503.0 1660.2,1502.1 1663.9,1501.4 1663.9,1501.4 1667.5,1506.1 1671.2,1511.9 1673.9,1515.0 1674.9,1514.6 1678.6,1512.9 1682.2,1510.7 1685.9,1508.3 1689.6,1506.0 1693.2,1504.0 1696.2,1502.8 1696.9,1503.0 1700.6,1504.8 1704.3,1507.0 1707.9,1509.1 1708.6,1509.5 1711.6,1511.0 1715.3,1513.0 1719.0,1514.9 1722.6,1516.5 1726.1,1517.7 1726.3,1517.6 1730.0,1515.7 1733.6,1513.3 1737.3,1510.5 1741.0,1507.6 1744.7,1504.9 1748.3,1502.6 1750.9,1501.4 1752.0,1501.8 1755.7,1503.5 1759.4,1505.7 1763.0,1507.9 1765.9,1509.5 1766.7,1509.9 1770.4,1511.4 1774.0,1512.9 1777.7,1514.4 1781.4,1515.9 1785.1,1517.4 1785.8,1517.7 1788.7,1519.3 1792.4,1521.5 1796.1,1523.8 1799.8,1525.9 1803.4,1527.7 1805.7,1528.5 1807.1,1526.7 1810.8,1520.5 1814.4,1512.8 1818.1,1504.7 1821.8,1497.1 1825.5,1490.9 1825.7,1490.6 1829.1,1489.2 1832.8,1487.9 1836.5,1486.9 1838.1,1486.5 1840.2,1486.8 1843.8,1487.5 1847.5,1488.3 1851.2,1489.3 1854.8,1490.2 1855.5,1490.4 1858.5,1492.0 1862.2,1494.3 1865.9,1496.7 1869.5,1499.0 1872.0,1500.4 1873.2,1500.8 1876.9,1501.9 1880.6,1503.1 1884.2,1504.1 1887.9,1505.0 1891.6,1505.7 1891.9,1505.8 1895.2,1505.0 1898.9,1503.7 1902.6,1502.3 1905.2,1501.3 1906.3,1500.7 1909.9,1498.5 1913.6,1496.5 1915.2,1495.8 1917.3,1496.7 1921.0,1499.1 1924.6,1501.1 1925.1,1501.3 1928.3,1500.2 1932.0,1498.5 1935.6,1496.4 1936.7,1495.8 1939.3,1490.9 1943.0,1483.0 1945.0,1479.6 1946.7,1478.8 1950.3,1477.1 1954.0,1475.7 1956.7,1475.0 1957.7,1475.9 1961.4,1480.6 1965.0,1486.2 1968.3,1490.4 1968.7,1490.6 1972.4,1492.4 1976.1,1494.0 1979.7,1495.5 1983.4,1496.8 1986.5,1497.6 1987.1,1497.5 1990.7,1496.5 1994.4,1495.1 1998.1,1493.9 2001.5,1493.0 2001.8,1493.0 2005.4,1493.2 2009.1,1493.5 2012.8,1493.7 2016.5,1493.9 2018.1,1494.0 2020.1,1493.1 2023.8,1491.1 2027.5,1488.7 2031.1,1486.2 2033.0,1485.0 2034.8,1483.9 2038.5,1481.6 2042.2,1479.3 2044.6,1477.8 2045.8,1477.0 2049.5,1474.4 2053.2,1472.0 2056.2,1470.5 2056.9,1470.6 2060.5,1471.0 2064.2,1471.6 2067.9,1472.3 2067.9,1472.3 2071.5,1474.9 2075.2,1478.1 2078.9,1481.0 2079.4,1481.4 2082.6,1482.6 2086.2,1483.9 2089.9,1485.0"/>
<polyline class="cv" stroke="#ff8000" points="455.5,1530.3 459.2,1531.7 462.9,1533.1 466.5,1534.5 470.2,1535.7 470.2,1535.7 473.9,1536.6 477.6,1537.5 481.2,1538.3 484.9,1539.0 486.8,1539.3 488.6,1538.2 492.3,1535.0 495.9,1531.3 499.6,1527.3 503.3,1523.8 506.7,1521.2 507.0,1521.2 510.6,1520.8 514.3,1520.5 518.0,1520.3 518.3,1520.3 521.7,1522.0 525.3,1524.5 529.0,1527.2 532.7,1529.9 533.3,1530.3 536.4,1532.1 540.0,1534.3 543.7,1536.3 546.5,1537.5 547.4,1537.6 551.0,1537.9 554.7,1538.2 558.4,1538.4 562.1,1538.6 565.7,1538.8 568.8,1539.0 569.4,1539.0 573.1,1539.1 576.8,1539.1 580.4,1539.2 584.1,1539.2 587.8,1539.3 589.6,1539.3 591.5,1538.6 595.1,1536.8 598.8,1534.6 602.5,1532.6 606.2,1531.0 606.2,1531.0 609.8,1532.1 613.5,1533.6 617.2,1535.2 620.9,1536.9 624.5,1538.3 627.8,1539.3 628.2,1539.2 631.9,1538.5 635.6,1537.6 637.6,1537.0 639.2,1535.7 642.9,1531.8 646.6,1527.8 650.2,1524.9 650.3,1524.9 653.9,1526.2 657.6,1527.9 661.0,1529.4 661.3,1529.5 665.0,1531.3 668.6,1533.1 671.0,1533.9 672.3,1533.2 676.0,1530.3 679.7,1527.4 680.9,1526.7 683.3,1528.3 687.0,1531.5 687.5,1532.0 690.7,1536.9 692.6,1539.3 694.4,1539.3 698.0,1539.3 701.7,1539.3 705.4,1539.3 705.8,1539.3 709.1,1537.7 712.7,1535.4 715.8,1533.9 716.4,1534.1 720.1,1536.2 723.8,1538.5 725.7,1539.3 727.4,1539.2 731.1,1538.9 734.8,1538.6 738.5,1538.2 742.1,1537.9 745.8,1537.6 747.2,1537.5 749.5,1537.7 753.2,1538.0 756.8,1538.5 760.5,1538.9 764.2,1539.2 765.5,1539.3 767.9,1539.2 771.5,1538.9 775.2,1538.5 778.9,1538.1 779.8,1538.0 782.6,1535.0 786.2,1529.7 789.9,1525.3 790.4,1524.9 793.6,1529.2 797.3,1535.4 798.7,1537.5 800.9,1539.3 803.7,1541.0 804.6,1541.0 808.3,1540.9 812.0,1540.8 813.6,1540.7 815.6,1538.9 819.3,1534.4 823.0,1530.4 823.6,1530.0 826.7,1532.0 830.3,1535.3 834.0,1538.4 835.8,1539.4 837.7,1538.4 841.4,1536.0 845.0,1533.0 848.7,1529.8 852.4,1526.7 856.1,1524.2 858.3,1523.0 859.7,1523.3 863.4,1524.4 867.1,1525.5 868.3,1525.8 870.8,1524.2 874.4,1520.9 878.1,1517.2 881.8,1513.3 885.5,1509.8 885.8,1509.5 889.1,1507.6 892.8,1505.6 896.5,1503.7 900.2,1501.7 903.8,1499.7 905.5,1498.7 907.5,1496.9 911.2,1493.2 914.9,1489.3 918.5,1484.4 922.2,1482.5 922.9,1482.4 925.9,1483.3 929.6,1485.8 933.2,1487.7 934.3,1487.8 936.9,1484.2 940.6,1471.4 944.3,1458.2 945.5,1455.3 947.9,1451.3 951.6,1446.4 955.3,1442.3 959.0,1438.4 962.6,1434.0 962.9,1433.6 966.3,1429.5 970.0,1425.3 973.7,1420.3 977.3,1413.1 977.8,1412.0 981.0,1399.0 984.7,1375.6 985.3,1371.0 988.3,1341.4 990.8,1317.0 992.0,1308.1 995.7,1284.6 999.4,1263.6 1000.0,1260.0 1003.0,1242.6 1006.7,1222.7 1009.2,1210.0 1010.4,1204.0 1014.1,1187.5 1017.7,1171.4 1021.4,1153.3 1022.0,1150.0 1025.1,1131.5 1028.4,1107.0 1028.8,1104.2 1032.4,1065.4 1033.5,1052.6 1036.1,1012.9 1037.2,998.3 1039.8,967.8 1042.2,944.0 1043.5,932.9 1047.1,904.5 1048.3,895.3 1050.8,876.0 1054.5,847.2 1054.6,846.5 1058.2,816.5 1060.8,795.0 1061.8,787.3 1065.5,760.8 1068.3,742.0 1069.2,735.8 1072.9,713.0 1076.5,689.1 1076.5,688.9 1080.2,658.0 1081.5,649.3 1083.9,636.7 1087.0,624.5 1087.6,622.5 1091.2,612.4 1094.3,604.6 1094.9,602.9 1098.6,592.5 1100.6,587.7 1102.3,584.2 1105.9,578.7 1106.1,578.7 1109.6,579.2 1111.7,579.7 1113.3,580.7 1117.0,585.0 1118.9,586.7 1120.6,587.6 1124.3,589.0 1128.0,590.7 1128.1,590.7 1131.7,593.7 1134.4,596.6 1135.3,597.7 1139.0,602.4 1141.7,605.6 1142.7,606.5 1146.4,609.3 1150.0,611.9 1150.8,612.5 1153.7,614.7 1157.4,617.5 1160.0,619.5 1161.1,620.4 1164.7,623.6 1167.2,625.5 1168.4,626.3 1172.1,628.4 1172.8,628.5 1175.8,626.1 1178.3,622.5 1179.4,620.6 1183.1,613.0 1184.6,610.6 1186.8,608.2 1190.5,605.0 1191.9,603.6 1194.1,601.1 1197.8,596.5 1199.2,594.6 1201.5,591.5 1205.2,584.8 1205.6,583.7 1208.8,566.4 1209.0,565.7 1212.5,553.9 1216.2,543.6 1217.6,539.1 1219.9,531.2 1220.2,530.0 1223.5,517.0 1225.4,509.3 1227.2,501.4 1230.9,484.5 1230.9,484.4 1234.6,466.8 1236.3,459.6 1238.2,453.7 1241.8,444.6 1241.9,444.4 1245.6,436.9 1249.1,429.7 1249.3,429.3 1252.9,419.3 1254.6,414.8 1256.6,408.6 1259.2,402.9 1260.3,402.2 1264.0,400.9 1264.7,400.9 1267.6,401.5 1271.3,403.7 1272.8,404.9 1275.0,408.1 1277.4,413.8 1278.7,417.2 1282.0,427.7 1282.3,428.5 1286.0,436.6 1289.3,443.6 1289.7,444.6 1293.4,453.4 1295.7,459.6 1297.0,463.5 1300.7,475.0 1302.0,479.5 1304.4,488.2 1308.1,502.7 1308.4,504.3 1311.7,517.6 1315.4,533.5 1316.6,539.1 1319.1,552.2 1322.8,573.0 1322.9,574.0 1326.4,591.5 1329.8,609.6 1330.1,611.4 1333.8,637.4 1335.3,649.0 1337.5,665.2 1340.6,689.1 1341.1,693.5 1344.8,721.2 1345.9,729.0 1348.5,748.0 1351.7,769.6 1352.2,772.7 1355.8,793.8 1358.7,809.0 1359.5,813.1 1363.2,831.7 1366.9,848.3 1367.2,849.5 1370.5,861.8 1374.2,873.5 1377.9,885.4 1378.9,889.0 1381.6,898.5 1385.2,912.2 1388.9,926.9 1389.5,929.6 1392.6,943.5 1396.3,961.7 1397.7,969.0 1399.9,981.0 1403.6,1001.1 1405.3,1009.0 1407.3,1016.6 1411.0,1029.4 1414.6,1040.6 1418.0,1049.8 1418.3,1050.6 1422.0,1059.4 1425.7,1067.4 1426.7,1069.7 1429.3,1075.6 1431.2,1079.6 1433.0,1082.9 1436.2,1089.6 1436.7,1091.0 1438.5,1099.5 1440.3,1108.7 1444.0,1127.4 1444.5,1129.3 1447.7,1140.6 1451.4,1151.6 1455.0,1161.3 1458.2,1169.1 1458.7,1170.4 1462.4,1178.7 1462.4,1178.7 1466.1,1193.6 1469.7,1212.7 1473.4,1229.9 1474.8,1235.6 1477.1,1242.1 1479.8,1249.0 1480.8,1250.5 1484.4,1255.4 1488.1,1260.3 1489.6,1262.7 1491.8,1271.7 1495.5,1289.6 1497.2,1298.0 1499.1,1305.6 1502.8,1320.1 1506.5,1333.9 1507.1,1336.0 1510.2,1344.8 1513.8,1354.7 1517.1,1363.0 1517.5,1363.9 1521.2,1371.3 1524.9,1378.3 1527.0,1382.0 1528.5,1383.8 1532.2,1387.7 1535.9,1391.7 1537.0,1393.0 1539.6,1399.5 1543.2,1409.4 1544.4,1412.0 1546.9,1414.2 1550.6,1416.9 1554.3,1419.9 1554.4,1420.0 1557.9,1427.6 1561.6,1436.3 1564.2,1441.7 1565.3,1442.7 1569.0,1445.9 1572.6,1448.7 1574.3,1450.0 1576.3,1451.3 1580.0,1453.5 1583.7,1455.8 1586.7,1458.0 1587.3,1459.0 1591.0,1465.8 1594.7,1473.2 1596.7,1477.0 1598.4,1479.6 1602.0,1485.3 1605.7,1490.0 1606.4,1490.6 1609.4,1489.4 1613.1,1487.3 1616.7,1485.1 1619.1,1483.8 1620.4,1483.2 1624.1,1481.4 1627.8,1479.7 1631.4,1478.4 1631.6,1478.4 1635.1,1479.5 1638.8,1481.1 1641.5,1482.4 1642.5,1483.4 1646.1,1488.1 1649.8,1493.0 1653.5,1497.0 1653.9,1497.3 1657.2,1496.3 1660.8,1494.7 1663.9,1493.3 1664.5,1492.7 1668.2,1489.0 1671.9,1485.3 1673.9,1483.8 1675.5,1484.8 1679.2,1487.8 1682.9,1491.1 1686.2,1493.3 1686.6,1493.3 1690.2,1493.0 1693.9,1492.6 1697.6,1492.3 1701.2,1492.0 1701.3,1492.0 1704.9,1492.3 1708.6,1492.6 1712.3,1493.0 1716.0,1493.3 1716.1,1493.3 1719.6,1491.6 1723.3,1489.2 1727.0,1487.1 1728.4,1486.5 1730.7,1488.4 1734.3,1492.7 1738.0,1497.3 1741.0,1500.0 1741.7,1499.3 1745.4,1493.1 1749.0,1486.3 1750.9,1483.8 1752.7,1485.4 1756.4,1490.2 1760.1,1495.1 1760.9,1496.0 1763.7,1497.8 1767.4,1499.9 1770.8,1501.4 1771.1,1501.3 1774.8,1499.9 1778.4,1498.2 1782.1,1496.0 1785.8,1493.3"/>
</g></g>
<text class="tk" transform="translate(422.0,122.4) scale(1,1.03)" text-anchor="end">1.2x10</text><text class="sup" transform="translate(423.0,74.2) scale(1,1.03)" text-anchor="start">5</text>
<text class="tk" transform="translate(422.0,485.4) scale(1,1.03)" text-anchor="end">1.0x10</text><text class="sup" transform="translate(423.0,437.1) scale(1,1.03)" text-anchor="start">5</text>
<text class="tk" transform="translate(422.0,848.3) scale(1,1.03)" text-anchor="end">8.0x10</text><text class="sup" transform="translate(423.0,800.1) scale(1,1.03)" text-anchor="start">4</text>
<text class="tk" transform="translate(422.0,1211.2) scale(1,1.03)" text-anchor="end">6.0x10</text><text class="sup" transform="translate(423.0,1163.0) scale(1,1.03)" text-anchor="start">4</text>
<text class="tk" transform="translate(422.0,1574.2) scale(1,1.03)" text-anchor="end">4.0x10</text><text class="sup" transform="translate(423.0,1526.0) scale(1,1.03)" text-anchor="start">4</text>
<text class="tk" transform="translate(494.7,1651.9) scale(0.98,1.03)" text-anchor="middle">525</text>
<text class="tk" transform="translate(1088.6,1651.9) scale(0.98,1.03)" text-anchor="middle">530</text>
<text class="tk" transform="translate(1682.6,1651.9) scale(0.98,1.03)" text-anchor="middle">535</text>
<text class="tk" transform="translate(2276.5,1651.9) scale(0.98,1.03)" text-anchor="middle">540</text>
<text class="ttl" transform="translate(1388.0,1766.5) scale(1,1.03)" text-anchor="middle">Binding energy (eV)</text>
<text class="ttl" transform="translate(134.0,792.0) rotate(-90) scale(1.016,1.134)" text-anchor="middle">Counts/s</text>
<line class="ll" stroke="#000000" x1="1686.3" y1="174.1" x2="1862.3" y2="174.1"/>
<line class="ll" stroke="#ff0000" x1="1686.3" y1="278.8" x2="1862.3" y2="278.8"/>
<text class="lg" transform="translate(1884.0,304.5) scale(1,1.03)" text-anchor="start">2<tspan class="us" dx="-1" dy="-4.4">_</tspan><tspan dx="-2.45" dy="4.4">cycles</tspan></text>
<line class="ll" stroke="#00ff00" x1="1686.3" y1="377" x2="1862.3" y2="377"/>
<text class="lg" transform="translate(1884.0,403.4) scale(1,1.03)" text-anchor="start">5<tspan class="us" dx="-1" dy="-4.4">_</tspan><tspan dx="-2.45" dy="4.4">cycles</tspan></text>
<line class="ll" stroke="#0000ff" x1="1686.3" y1="474" x2="1862.3" y2="474"/>
<text class="lg" transform="translate(1884.0,499.4) scale(1,1.03)" text-anchor="start">8<tspan class="us" dx="-1" dy="-4.4">_</tspan><tspan dx="-2.45" dy="4.4">cycles</tspan></text>
<line class="ll" stroke="#ff8000" x1="1686.3" y1="572" x2="1862.3" y2="572"/>
<text class="lg" transform="translate(1884.0,597.0) scale(1,1.03)" text-anchor="start">10<tspan class="us" dx="-1" dy="-4.4">_</tspan><tspan dx="-2.45" dy="4.4">cycles</tspan></text>
<text class="lg eps" transform="translate(1883.5,201.0) scale(1.16,0.95)" text-anchor="start">ε</text><text class="lg" transform="translate(1884.0,201.0) scale(1,1.03)" text-anchor="start"><tspan x="37">-</tspan><tspan x="58.5">Zn(OH)</tspan><tspan class="sub" dy="29">2</tspan></text>
<text class="an" transform="translate(1023.0,307.2) scale(1,1.03)" text-anchor="start">532.3 eV</text>
<text class="an" transform="translate(877.0,487.0) scale(1,1.03)" text-anchor="start">530.6 eV</text>
<line x1="1263.8" y1="327.4" x2="1313.4" y2="377.0" stroke="#000" stroke-width="6.5" stroke-linecap="butt"/><polygon fill="#000" points="1327.5,391.1 1301.7,383.0 1319.4,365.3"/>
<line x1="1126.6" y1="493.0" x2="1174.4" y2="551.1" stroke="#000" stroke-width="6.5" stroke-linecap="butt"/><polygon fill="#000" points="1187.1,566.5 1162.2,555.9 1181.5,540.0"/>
</svg>
</body></html>
